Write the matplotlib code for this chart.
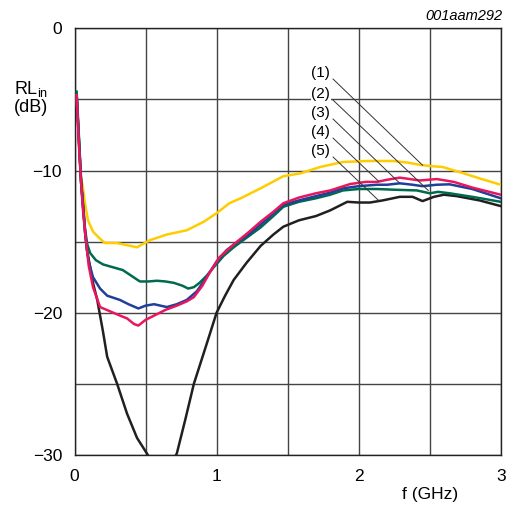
import matplotlib.pyplot as plt

plt.rcParams['font.family'] = ['Liberation Sans', 'DejaVu Sans']
plt.rcParams['mathtext.fontset'] = 'custom'
plt.rcParams['mathtext.rm'] = 'Liberation Sans'

# (1) yellow
f1 = [0.015, 0.03, 0.046, 0.058, 0.075, 0.095, 0.13, 0.18, 0.215, 0.3, 0.37, 0.44, 0.53, 0.65,
      0.79, 0.91, 1.0, 1.09, 1.17, 1.31, 1.47, 1.59, 1.73, 1.89, 2.06, 2.24, 2.35, 2.43, 2.52,
      2.59, 2.64, 2.74, 2.85, 3.0]
rl1 = [-4.7, -8.0, -10.5, -11.1, -12.4, -13.5, -14.3, -14.8, -15.1, -15.1, -15.25, -15.4, -14.9,
       -14.5, -14.2, -13.6, -13.0, -12.3, -11.95, -11.25, -10.4, -10.2, -9.75, -9.4, -9.33, -9.33,
       -9.45, -9.6, -9.7, -9.75, -9.9, -10.2, -10.55, -11.0]

# (2) green
f2 = [0.015, 0.046, 0.075, 0.09, 0.11, 0.15, 0.2, 0.27, 0.34, 0.4, 0.46, 0.52, 0.58, 0.64, 0.7,
      0.76, 0.8, 0.84, 0.88, 0.93, 0.98, 1.05, 1.12, 1.235, 1.31, 1.4, 1.47, 1.58, 1.7, 1.8,
      1.89, 2.0, 2.13, 2.25, 2.41, 2.5, 2.56, 2.64, 2.8, 3.0]
rl2 = [-4.45, -10.6, -14.2, -15.2, -15.8, -16.3, -16.6, -16.8, -17.0, -17.4, -17.8, -17.8, -17.75,
       -17.8, -17.9, -18.1, -18.3, -18.2, -17.9, -17.4, -16.8, -16.0, -15.4, -14.55, -14.0, -13.2,
       -12.55, -12.2, -11.95, -11.7, -11.4, -11.3, -11.3, -11.35, -11.4, -11.6, -11.5, -11.6,
       -11.85, -12.2]

# (3) blue
f3 = [0.015, 0.046, 0.075, 0.088, 0.1, 0.13, 0.18, 0.23, 0.32, 0.38, 0.45, 0.5, 0.56, 0.65, 0.72,
      0.79, 0.86, 0.93, 1.0, 1.07, 1.15, 1.235, 1.31, 1.4, 1.47, 1.58, 1.7, 1.8, 1.89, 2.0, 2.13,
      2.2, 2.29, 2.38, 2.45, 2.55, 2.64, 2.8, 3.0]
rl3 = [-4.7, -10.8, -14.4, -15.6, -16.4, -17.5, -18.3, -18.8, -19.1, -19.4, -19.7, -19.5, -19.4,
       -19.6, -19.4, -19.1, -18.5, -17.5, -16.4, -15.6, -15.0, -14.4, -13.8, -13.0, -12.4, -12.1,
       -11.8, -11.55, -11.25, -11.1, -11.0, -11.0, -10.9, -11.0, -11.1, -11.0, -10.97, -11.3, -11.95]

# (4) pink
f4 = [0.015, 0.03, 0.046, 0.06, 0.075, 0.088, 0.1, 0.13, 0.18, 0.25, 0.32, 0.37, 0.42, 0.45, 0.5,
      0.56, 0.64, 0.72, 0.79, 0.84, 0.9, 0.95, 1.02, 1.12, 1.23, 1.31, 1.4, 1.47, 1.58, 1.7, 1.8,
      1.94, 2.05, 2.13, 2.2, 2.29, 2.36, 2.43, 2.55, 2.67, 2.8, 3.0]
rl4 = [-4.7, -8.0, -10.8, -12.8, -14.4, -15.6, -16.7, -18.2, -19.6, -19.9, -20.2, -20.4, -20.8,
       -20.9, -20.5, -20.2, -19.8, -19.5, -19.2, -18.9, -18.1, -17.2, -16.1, -15.2, -14.3, -13.6,
       -12.9, -12.3, -11.9, -11.6, -11.4, -10.95, -10.8, -10.8, -10.65, -10.5, -10.6, -10.7, -10.6,
       -10.8, -11.2, -11.7]

# (5) black
f5 = [0.015, 0.046, 0.075, 0.088, 0.13, 0.16, 0.2, 0.23, 0.3, 0.37, 0.44, 0.51, 0.55, 0.62, 0.68,
      0.72, 0.78, 0.84, 0.93, 1.0, 1.06, 1.12, 1.21, 1.31, 1.4, 1.47, 1.58, 1.7, 1.8, 1.92, 2.0,
      2.08, 2.17, 2.29, 2.38, 2.45, 2.53, 2.6, 2.69, 2.85, 3.0]
rl5 = [-4.7, -10.8, -14.4, -15.6, -17.9, -19.1, -21.3, -23.1, -25.0, -27.1, -28.8, -29.9, -30.6,
       -31.0, -30.6, -29.9, -27.5, -25.0, -22.2, -20.0, -18.8, -17.7, -16.5, -15.3, -14.5, -13.95,
       -13.5, -13.2, -12.8, -12.2, -12.25, -12.25, -12.1, -11.85, -11.85, -12.15, -11.85, -11.7,
       -11.8, -12.1, -12.5]

labels = ['(1)', '(2)', '(3)', '(4)', '(5)']
label_y = [-3.15, -4.63, -5.96, -7.3, -8.63]
leader_end = [(2.45, -9.63), (2.49, -11.4), (2.29, -10.9), (2.14, -10.75), (2.14, -12.1)]

fig = plt.figure(figsize=(5.09, 5.07), dpi=100)
ax = fig.add_axes([0.1464, 0.1026, 0.8373, 0.8416])

ax.plot(f1, rl1, color='#FFCC00', lw=1.8, zorder=3)
ax.plot(f5, rl5, color='#231F20', lw=1.8, zorder=3)
ax.plot(f2, rl2, color='#006A4E', lw=1.8, zorder=3)
ax.plot(f3, rl3, color='#1F3F99', lw=1.8, zorder=3)
ax.plot(f4, rl4, color='#E8175D', lw=1.8, zorder=3)

for lab, ly, (ex, ey) in zip(labels, label_y, leader_end):
    ax.text(1.80, ly, lab, ha='right', va='center', fontsize=11, zorder=4,
            bbox=dict(facecolor='white', edgecolor='none', pad=0.5))
    ax.plot([1.82, ex], [ly - 0.42, ey], color='#333333', lw=0.7, zorder=4)

ax.set_xlim(0, 3)
ax.set_ylim(-30, 0)
ax.set_xticks([0, 1, 2, 3])
ax.set_yticks([0, -10, -20, -30])
ax.set_yticklabels(['0', '\u221210', '\u221220', '\u221230'])
ax.set_xticks([0.5, 1.5, 2.5], minor=True)
ax.set_yticks([-5, -15, -25], minor=True)
ax.tick_params(which='both', length=0, labelsize=12.5)
ax.tick_params(axis='x', pad=10)
ax.tick_params(axis='y', pad=9)
ax.grid(which='both', color='#444444', lw=1.0)
ax.set_axisbelow(True)
for s in ax.spines.values():
    s.set_color('#222222')
    s.set_linewidth(1.0)

fig.text(14 / 509, 1 - 89 / 507, 'RL$_{\\rm in}$', fontsize=13, va='center', ha='left')
fig.text(14 / 509, 1 - 108 / 507, '(dB)', fontsize=13, va='center', ha='left')
fig.text(430 / 509, 1 - 495 / 507, 'f (GHz)', fontsize=12.5, va='center', ha='center')
fig.text(502 / 509, 1 - 16 / 507, '001aam292', fontsize=10.5, style='italic',
         va='center', ha='right')

fig.savefig('out.png', dpi=100)
